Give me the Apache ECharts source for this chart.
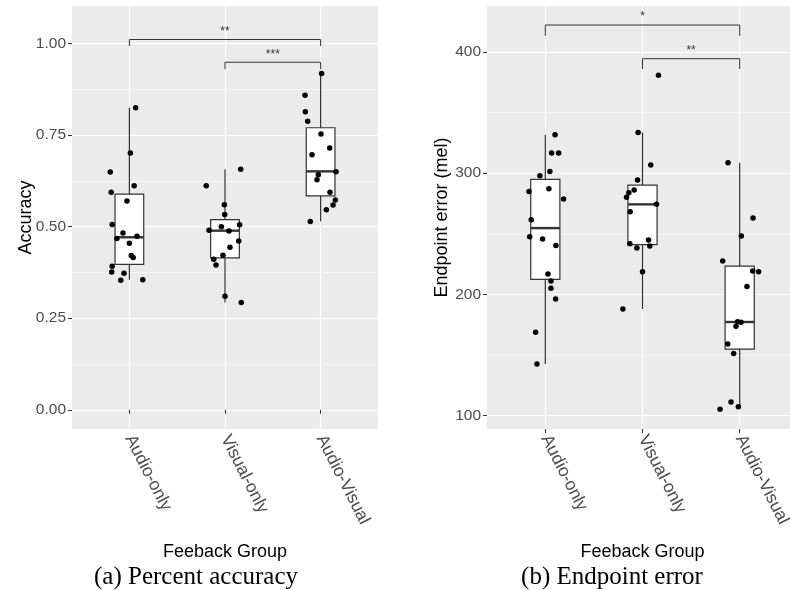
<!DOCTYPE html>
<html>
<head>
<meta charset="utf-8">
<script src="https://cdn.jsdelivr.net/npm/echarts@6/dist/echarts.min.js"></script>
<style>
  html, body { margin: 0; padding: 0; background: #fff; }
  #chart { width: 790px; height: 590px; }
</style>
</head>
<body>
<div id="chart"></div>
<script>
// groups on the x axis of both panels
const groups = ['Audio-only', 'Visual-only', 'Audio-Visual'];

// tick labels
const accTicks = [0, 0.25, 0.5, 0.75, 1];
const errTicks = [100, 200, 300, 400];

// accuracy: per-participant values and their horizontal jitter
const accAudioOnly = [0.825, 0.701, 0.649, 0.612, 0.594, 0.570, 0.506, 0.483, 0.468, 0.474, 0.455, 0.421, 0.416, 0.392, 0.376, 0.373, 0.354, 0.355];
const accAudioOnlyJit = [0.066, 0.01, -0.20, 0.05, -0.19, -0.025, -0.18, -0.067, -0.13, 0.08, 0.0, 0.02, 0.04, -0.18, -0.185, -0.056, -0.09, 0.14];
const accVisualOnly = [0.657, 0.612, 0.560, 0.533, 0.500, 0.505, 0.490, 0.488, 0.461, 0.444, 0.422, 0.411, 0.395, 0.310, 0.293];
const accVisualOnlyJit = [0.164, -0.196, -0.007, -0.003, -0.038, 0.153, -0.167, 0.042, 0.143, 0.052, -0.021, -0.118, -0.094, 0, 0.17];
const accAudioVisual = [0.918, 0.859, 0.814, 0.788, 0.753, 0.715, 0.696, 0.650, 0.642, 0.628, 0.594, 0.573, 0.559, 0.546, 0.514];
const accAudioVisualJit = [0.01, -0.163, -0.16, -0.135, 0.004, 0.095, -0.09, 0.161, -0.024, -0.038, 0.098, 0.154, 0.13, 0.06, -0.108];
// box stats: lower whisker, Q1, median, Q3, upper whisker
const accBoxes = [
  [0.355, 0.397, 0.471, 0.589, 0.825],
  [0.293, 0.415, 0.489, 0.519, 0.657],
  [0.514, 0.584, 0.651, 0.770, 0.918]
];

// endpoint error (mel)
const errAudioOnly = [331.7, 316.6, 316.6, 301.5, 297.9, 287.2, 285.0, 278.7, 261.6, 247.6, 245.7, 240.4, 216.8, 211.0, 205.0, 196.1, 168.7, 142.5];
const errAudioOnlyJit = [0.10, 0.065, 0.137, 0.047, -0.056, 0.037, -0.168, 0.188, -0.145, -0.161, -0.028, 0.109, 0.027, 0.058, 0.058, 0.106, -0.1, -0.086];
const errVisualOnly = [380.8, 333.7, 306.7, 294.4, 286.1, 283.9, 280.1, 274.3, 268.2, 244.8, 241.8, 239.9, 238.2, 218.7, 187.9];
const errVisualOnlyJit = [0.164, -0.045, 0.085, -0.051, -0.086, -0.141, -0.164, 0.144, -0.127, 0.062, -0.13, 0.075, -0.058, 0, -0.202];
const errAudioVisual = [308.6, 263.0, 248.1, 227.5, 219.3, 218.7, 206.6, 177.4, 176.9, 173.6, 159.0, 151.3, 111.1, 107.3, 105.1];
const errAudioVisualJit = [-0.12, 0.137, 0.017, -0.175, 0.134, 0.195, 0.075, -0.021, 0.013, -0.038, -0.123, -0.062, -0.089, -0.014, -0.202];
const errBoxes = [
  [142.5, 212.4, 254.7, 294.9, 331.7],
  [187.9, 241.0, 274.3, 290.2, 333.7],
  [105.1, 154.9, 177.2, 223.4, 308.6]
];

// significance brackets: from group, to group, bar height, tip end, label
const accBrFrom = [1, 2], accBrTo = [3, 3];
const accBrY = [1.011, 0.949], accBrTip = [0.993, 0.930];
const accBrText = ['**', '***'];
const errBrFrom = [1, 2], errBrTo = [3, 3];
const errBrY = [422.3, 394.5], errBrTip = [413.4, 386];
const errBrText = ['*', '**'];

const axisFont = 'Liberation Sans';
const midpoints = t => t.slice(1).map((v, i) => (v + t[i]) / 2);

function jitterPoints(vals, jit, g) {
  return vals.map((v, i) => [g + 1 + jit[i], v]);
}

function boxItem(params, api) {
  const x = api.value(0);
  const half = api.size([0.3, 0])[0] / 2;
  const lo = api.coord([x, api.value(1)]);
  const q1 = api.coord([x, api.value(2)]);
  const md = api.coord([x, api.value(3)]);
  const q3 = api.coord([x, api.value(4)]);
  const hi = api.coord([x, api.value(5)]);
  const st = { stroke: '#333', lineWidth: 1.2 };
  return {
    type: 'group',
    children: [
      { type: 'line', shape: { x1: hi[0], y1: hi[1], x2: q3[0], y2: q3[1] }, style: st },
      { type: 'line', shape: { x1: q1[0], y1: q1[1], x2: lo[0], y2: lo[1] }, style: st },
      { type: 'rect', shape: { x: q3[0] - half, y: q3[1], width: half * 2, height: q1[1] - q3[1] },
        style: { fill: '#fff', stroke: '#333', lineWidth: 1.2 } },
      { type: 'line', shape: { x1: md[0] - half, y1: md[1], x2: md[0] + half, y2: md[1] },
        style: { stroke: '#333', lineWidth: 2.4 } }
    ]
  };
}

function bracketRenderer(texts) {
  return function (params, api) {
    const a = api.coord([api.value(0), api.value(3)]);
    const b = api.coord([api.value(0), api.value(2)]);
    const c = api.coord([api.value(1), api.value(2)]);
    const d = api.coord([api.value(1), api.value(3)]);
    return {
      type: 'group',
      children: [
        { type: 'polyline', shape: { points: [a, b, c, d] },
          style: { stroke: '#333', lineWidth: 1, fill: 'none' } },
        { type: 'text', x: (b[0] + c[0]) / 2, y: b[1] - 2,
          style: { text: texts[params.dataIndex], fontSize: 12, fontFamily: axisFont,
                   fill: '#333', align: 'center', verticalAlign: 'bottom' } }
      ]
    };
  };
}

function xAxisFor(gridIndex) {
  return {
    type: 'value', gridIndex: gridIndex, min: 0.4, max: 3.6,
    name: 'Feeback Group', nameLocation: 'middle', nameGap: 114, nameMoveOverlap: false,
    nameTextStyle: { fontSize: 18, color: '#000', fontFamily: axisFont },
    axisLine: { show: false },
    axisTick: { show: true, length: 4, customValues: [1, 2, 3], lineStyle: { color: '#333' } },
    axisLabel: { customValues: [1, 2, 3], rotate: -63, margin: 7, fontSize: 17.5,
                 color: '#4d4d4d', fontFamily: axisFont, formatter: v => groups[Math.round(v) - 1] },
    splitLine: { show: true, lineStyle: { color: '#fff', width: 1.1 } }
  };
}

function yAxesFor(gridIndex, min, max, ticks, fmt, title, gap) {
  return [{
    type: 'value', gridIndex: gridIndex, min: min, max: max,
    name: title, nameLocation: 'middle', nameGap: gap, nameMoveOverlap: false,
    nameTextStyle: { fontSize: 18, color: '#000', fontFamily: axisFont },
    axisLine: { show: false },
    axisTick: { show: true, length: 4, customValues: ticks, lineStyle: { color: '#333' } },
    axisLabel: { customValues: ticks, margin: 6, fontSize: 15.5, color: '#4d4d4d',
                 fontFamily: axisFont, formatter: fmt },
    splitLine: { show: true, lineStyle: { color: '#fff', width: 1.1 } }
  }, {
    type: 'value', gridIndex: gridIndex, min: min, max: max,
    axisLine: { show: false },
    axisTick: { show: false, customValues: midpoints(ticks) },
    axisLabel: { show: false, customValues: midpoints(ticks) },
    splitLine: { show: true, lineStyle: { color: '#fff', width: 0.55 } }
  }];
}

function panelSeries(xi, yi, boxes, pts, brFrom, brTo, brY, brTip, brText) {
  return [{
    type: 'custom', xAxisIndex: xi, yAxisIndex: yi,
    renderItem: boxItem,
    encode: { x: 0, y: [1, 2, 3, 4, 5] },
    data: boxes.map((b, g) => [g + 1].concat(b)),
    z: 2
  }, {
    type: 'scatter', xAxisIndex: xi, yAxisIndex: yi,
    symbolSize: 5.5, itemStyle: { color: '#000', opacity: 1 },
    data: pts, z: 3
  }, {
    type: 'custom', xAxisIndex: xi, yAxisIndex: yi,
    renderItem: bracketRenderer(brText),
    encode: { x: [0, 1], y: [2, 3] },
    data: brFrom.map((f, i) => [f, brTo[i], brY[i], brTip[i]]),
    z: 4
  }];
}

const chart = echarts.init(document.getElementById('chart'));

const accPts = [].concat(
  jitterPoints(accAudioOnly, accAudioOnlyJit, 0),
  jitterPoints(accVisualOnly, accVisualOnlyJit, 1),
  jitterPoints(accAudioVisual, accAudioVisualJit, 2));
const errPts = [].concat(
  jitterPoints(errAudioOnly, errAudioOnlyJit, 0),
  jitterPoints(errVisualOnly, errVisualOnlyJit, 1),
  jitterPoints(errAudioVisual, errAudioVisualJit, 2));

const captionStyle = { font: '25px "Liberation Serif"', fill: '#000', align: 'center', verticalAlign: 'middle' };

const option = {
  backgroundColor: '#fff',
  animation: false,
  grid: [
    { left: 72, top: 6, width: 306, height: 423, show: true, backgroundColor: '#ebebeb',
      borderWidth: 0, containLabel: false, outerBoundsMode: 'none' },
    { left: 487, top: 6, width: 311, height: 423, show: true, backgroundColor: '#ebebeb',
      borderWidth: 0, containLabel: false, outerBoundsMode: 'none' }
  ],
  xAxis: [xAxisFor(0), xAxisFor(1)],
  yAxis: [].concat(
    yAxesFor(0, -0.0525, 1.1025, accTicks, v => v.toFixed(2), 'Accuracy', 37),
    yAxesFor(1, 88.9, 438, errTicks, v => String(v), 'Endpoint error (mel)', 36)
  ),
  series: [].concat(
    panelSeries(0, 0, accBoxes, accPts, accBrFrom, accBrTo, accBrY, accBrTip, accBrText),
    panelSeries(1, 2, errBoxes, errPts, errBrFrom, errBrTo, errBrY, errBrTip, errBrText)
  ),
  graphic: [
    { type: 'text', x: 196, y: 577, style: Object.assign({ text: '(a) Percent accuracy' }, captionStyle) },
    { type: 'text', x: 612, y: 577, style: Object.assign({ text: '(b) Endpoint error' }, captionStyle) }
  ]
};

chart.setOption(option);
</script>
</body>
</html>
